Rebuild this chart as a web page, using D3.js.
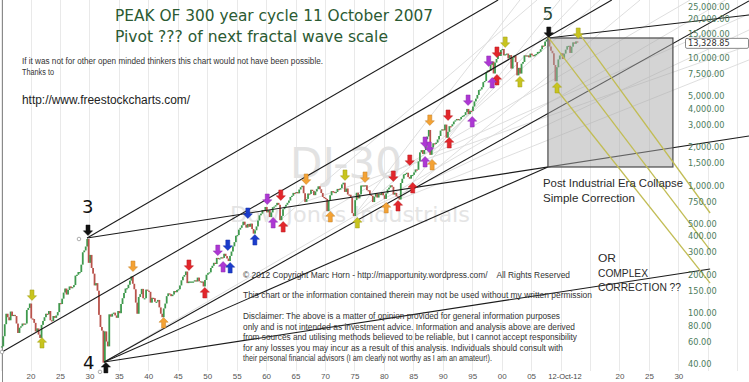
<!DOCTYPE html>
<html><head><meta charset="utf-8">
<script src="https://d3js.org/d3.v7.min.js"></script>
<style>html,body{margin:0;padding:0;background:#fff;overflow:hidden}</style>
</head><body>
<svg id="chart" width="749" height="382"></svg>
<script>
// ---------- DATA ----------
const startYear = 1915;
// DJIA approximate quarterly values (Q1..Q4), 1915 - 2012
const djiaQuarterly = [
  55, 66, 82, 99,        // 1915
  93, 88, 103, 95,       // 1916
  97, 95, 83, 70,        // 1917
  77, 79, 83, 82,        // 1918
  83, 106, 110, 119,     // 1919
  91, 90, 84, 72,        // 1920
  76, 68, 64, 81,        // 1921
  87, 93, 99, 98,        // 1922
  104, 88, 87, 95,       // 1923
  92, 96, 102, 120,      // 1924
  118, 130, 145, 156,    // 1925
  140, 152, 162, 157,    // 1926
  160, 166, 197, 200,    // 1927
  210, 210, 240, 300,    // 1928
  310, 333, 381, 248,    // 1929
  286, 226, 204, 165,    // 1930
  172, 150, 97, 78,      // 1931
  73, 41, 72, 60,        // 1932
  55, 98, 94, 99,        // 1933
  101, 96, 92, 104,      // 1934
  100, 118, 131, 144,    // 1935
  156, 157, 167, 180,    // 1936
  194, 170, 154, 121,    // 1937
  99, 134, 141, 155,     // 1938
  131, 131, 153, 150,    // 1939
  147, 121, 132, 131,    // 1940
  123, 123, 127, 111,    // 1941
  99, 93, 109, 119,      // 1942
  136, 143, 141, 136,    // 1943
  140, 149, 146, 152,    // 1944
  154, 165, 181, 193,    // 1945
  199, 212, 172, 177,    // 1946
  177, 177, 177, 181,    // 1947
  177, 190, 178, 177,    // 1948
  177, 162, 182, 200,    // 1949
  206, 209, 226, 235,    // 1950
  248, 243, 271, 269,    // 1951
  269, 274, 271, 292,    // 1952
  280, 268, 256, 281,    // 1953
  304, 334, 360, 404,    // 1954
  409, 451, 466, 488,    // 1955
  521, 492, 468, 500,    // 1956
  475, 503, 456, 420,    // 1957
  446, 478, 532, 584,    // 1958
  602, 643, 632, 679,    // 1959
  616, 641, 566, 615,    // 1960
  676, 684, 701, 731,    // 1961
  706, 535, 578, 652,    // 1962
  682, 706, 732, 763,    // 1963
  813, 831, 875, 874,    // 1964
  889, 868, 930, 969,    // 1965
  995, 870, 744, 785,    // 1966
  865, 860, 926, 905,    // 1967
  840, 898, 936, 985,    // 1968
  935, 873, 813, 800,    // 1969
  785, 631, 760, 838,    // 1970
  904, 891, 887, 890,    // 1971
  940, 929, 953, 1020,   // 1972
  1051, 891, 947, 850,   // 1973
  846, 802, 607, 577,    // 1974
  768, 878, 793, 852,    // 1975
  999, 1002, 990, 1004,  // 1976
  919, 916, 847, 831,    // 1977
  742, 818, 865, 805,    // 1978
  862, 841, 878, 838,    // 1979
  785, 867, 932, 963,    // 1980
  1003, 976, 849, 875,   // 1981
  822, 811, 777, 1046,   // 1982
  1130, 1221, 1233, 1258,// 1983
  1164, 1132, 1206, 1211,// 1984
  1266, 1335, 1328, 1546,// 1985
  1818, 1892, 1767, 1895,// 1986
  2304, 2418, 2722, 1739,// 1987
  1988, 2141, 2112, 2168,// 1988
  2293, 2440, 2692, 2753,// 1989
  2707, 2999, 2365, 2633,// 1990
  2913, 2906, 3016, 3168,// 1991
  3235, 3318, 3271, 3301,// 1992
  3435, 3516, 3555, 3754,// 1993
  3978, 3624, 3843, 3834,// 1994
  4157, 4556, 4789, 5117,// 1995
  5587, 5654, 5882, 6448,// 1996
  6583, 7673, 7945, 7908,// 1997
  8800, 9338, 7539, 9181,// 1998
  9786, 10971, 10337, 11497, // 1999
  11723, 10448, 10651, 10787,// 2000
  9879, 10502, 8236, 10022,  // 2001
  10404, 9243, 7286, 8342,   // 2002
  7524, 8985, 9275, 10454,   // 2003
  10358, 10435, 10080, 10783,// 2004
  10504, 10275, 10569, 10718,// 2005
  11109, 11150, 11679, 12463,// 2006
  12354, 13409, 13896, 14165,// 2007
  12263, 11350, 10851, 8776, // 2008
  6547, 8447, 9712, 10428,   // 2009
  10857, 9774, 10788, 11578, // 2010
  12320, 12414, 10913, 12218,// 2011
  13212, 12880, 13437, 13329 // 2012
];
const lastValue = 13328.85;
const lastValueLabel = "13,328.85";

const yTickValues = [25000,20000,15000,10000,7500,5000,4000,3000,2000,1500,1000,750,500,400,300,200,150,100,80,60,40];
const gridYears = [1915,1920,1925,1930,1935,1940,1945,1950,1955,1960,1965,1970,1975,1980,1985,1990,1995,2000,2005,2010,2015,2020,2025,2030,2035,2040];
const xLabelYears = [1920,1925,1930,1935,1940,1945,1950,1955,1960,1965,1970,1975,1980,1985,1990,1995,2000,2005,2020,2025,2030];
const dateLabel = {year: 2010.76, text: "12-Oct-12"};

// black trend lines [ [year,value], [year,value] ]
const trendLines = [
  [[1929.6, 388], [1999.4, 28350]],
  [[1915.16, 49.7], [2018.7, 28350]],
  [[1929.6, 388], [2042, 2441]],
  [[1932.5, 41.5], [2035.4, 222]],
  [[1932.5, 41.5], [2042, 27850]],
  [[1932.5, 41.5], [2007.86, 1396]],
  [[2007.9, 14290], [2042, 21640]]
];
// light grey fan lines
const fanLines = [
  [[1974.9, 577], [2003.1, 28350]],
  [[1974.9, 577], [2016.7, 28350]],
  [[1974.9, 577], [2042, 16510]],
  [[1982.6, 777], [2009.9, 28350]],
  [[1982.6, 777], [2023.5, 28350]],
  [[1982.6, 777], [2042, 9620]],
  [[1970.4, 631], [2032.0, 28350]],
  [[1987.8, 1739], [2013.0, 28350]],
  [[1987.8, 1739], [2042, 22000]],
  [[1932.5, 41.5], [2038, 28350]],
  [[1962.4, 535], [2006.0, 28350]],
  [[1966.6, 744], [2042, 12500]]
];
// yellow projection lines
const yellowLines = [
  [[2013.1, 15640], [2035.4, 609]],
  [[2007.86, 14560], [2035.4, 312]],
  [[2009.4, 5597], [2035.4, 172]]
];
const boxCorners = [[2007.86, 14290], [2029.08, 1396]];

// arrows: [year, value, direction, colour]
const arrows = [
  [1920.25, 139, "down", "yellow"], [1921.95, 58.4, "up", "yellow"],
  [1929.76, 448, "down", "black"],  [1932.8, 37.3, "up", "black"],
  [1937.4, 234, "down", "orange"],  [1942.6, 83.8, "up", "orange"],
  [1946.9, 238.6, "down", "red"],   [1949.6, 144, "up", "red"],
  [1951.8, 312, "down", "purple"],  [1952.7, 230, "up", "purple"],
  [1953.5, 342, "down", "blue"],    [1953.9, 226, "up", "blue"],
  [1956.9, 609, "down", "blue"],    [1958.1, 374, "up", "blue"],
  [1960.2, 784, "down", "purple"],  [1961.2, 509, "up", "purple"],
  [1962.5, 843, "down", "red"],     [1962.9, 473, "up", "red"],
  [1966.8, 1125, "down", "orange"], [1970.9, 567, "up", "orange"],
  [1973.4, 1209, "down", "yellow"], [1975.5, 509, "up", "yellow"],
  [1976.8, 1166, "down", "orange"], [1980.4, 667, "up", "orange"],
  [1981.6, 1187, "down", "red"],    [1982.4, 691, "up", "red"],
  [1984.4, 1584, "down", "red"],    [1984.9, 956, "up", "red"],
  [1987.0, 2191, "down", "purple"], [1987.7, 2002, "down", "purple"],
  [1987.0, 1528, "up", "purple"],   [1988.2, 1448, "up", "orange"],
  [1987.8, 3259, "down", "orange"],
  [1990.9, 3566, "down", "red"],    [1991.1, 2153, "up", "red"],
  [1994.3, 4673, "down", "purple"], [1995.0, 3143, "up", "purple"],
  [1999.2, 11106, "down", "red"],   [1999.2, 6704, "up", "red"],
  [1997.8, 9441, "down", "purple"], [1998.4, 6352, "up", "purple"],
  [2000.6, 13298, "down", "yellow"],[2003.1, 6465, "up", "yellow"],
  [2008.0, 15924, "down", "black"],
  [2013.0, 15645, "down", "yellow"],[2009.4, 5802, "up", "yellow"]
];
const markers = [[1915.16, 49.7], [1928.23, 381], [1931.8, 34.7]];

// ---------- DRAW ----------
const W = 749, H = 382;
const svg = d3.select("#chart");
const x = d3.scaleLinear().domain([1914.82, 2042]).range([0, W]);
const y = d3.scaleLog().domain([28.92, 28350]).range([H, 0]);
const arrowColors = {yellow:"#c8c41e", orange:"#f4a234", red:"#e3262b", purple:"#ad37d4", blue:"#1b3ccc", black:"#111"};

svg.append("rect").attr("width", W).attr("height", H).attr("fill", "#fff");

// vertical grid
svg.append("g").selectAll("line").data(gridYears).join("line")
  .attr("x1", d => Math.round(x(d)) + 0.5).attr("x2", d => Math.round(x(d)) + 0.5)
  .attr("y1", 0).attr("y2", 371)
  .attr("stroke", "#e9e9e9").attr("stroke-width", 1);
svg.append("line").attr("x1", 2.5).attr("x2", 2.5).attr("y1", 0).attr("y2", H)
  .attr("stroke", "#8a8a8a");

// watermark
svg.append("text").attr("x", 290).attr("y", 178).text("DJ-30")
  .attr("font-family", "DejaVu Sans, Verdana, sans-serif").attr("font-size", 42)
  .attr("fill", "#e2e2e2").attr("textLength", 112).attr("lengthAdjust", "spacingAndGlyphs");
svg.append("text").attr("x", 230).attr("y", 222).text("Dow Jones Industrials")
  .attr("font-family", "DejaVu Sans, Verdana, sans-serif").attr("font-size", 21)
  .attr("fill", "#e4e4e4").attr("textLength", 240).attr("lengthAdjust", "spacingAndGlyphs");

const lineGen = d3.line().x(d => x(d[0])).y(d => y(d[1]));

// fan lines
svg.append("g").selectAll("path").data(fanLines).join("path")
  .attr("d", lineGen).attr("fill", "none").attr("stroke", "#dadada").attr("stroke-width", 0.9);

// candles
const candles = djiaQuarterly.map((c, i) => ({
  t: startYear + i / 4 + 0.125,
  o: i > 0 ? djiaQuarterly[i - 1] : c,
  c: c
}));
svg.append("g").selectAll("rect").data(candles).join("rect")
  .attr("x", d => x(d.t) - 0.9).attr("width", 1.8)
  .attr("y", d => y(Math.max(d.o, d.c)))
  .attr("height", d => Math.max(1.2, Math.abs(y(d.o) - y(d.c))))
  .attr("fill", d => d.c >= d.o ? "#3f9a4e" : "#b9534c");

// black trend lines
svg.append("g").selectAll("path").data(trendLines).join("path")
  .attr("d", lineGen).attr("fill", "none").attr("stroke", "#1b1b1b").attr("stroke-width", 1.1);

// box
svg.append("rect")
  .attr("x", x(boxCorners[0][0])).attr("y", y(boxCorners[0][1]))
  .attr("width", x(boxCorners[1][0]) - x(boxCorners[0][0]))
  .attr("height", y(boxCorners[1][1]) - y(boxCorners[0][1]))
  .attr("fill", "#a9a9a9").attr("fill-opacity", 0.5)
  .attr("stroke", "#4a4a4a").attr("stroke-width", 1.2);

// yellow lines
svg.append("g").selectAll("path").data(yellowLines).join("path")
  .attr("d", lineGen).attr("fill", "none").attr("stroke", "#c2bd55").attr("stroke-width", 1.3);

// markers
svg.append("g").selectAll("circle").data(markers).join("circle")
  .attr("cx", d => x(d[0])).attr("cy", d => y(d[1])).attr("r", 1.8)
  .attr("fill", "#fff").attr("stroke", "#999").attr("stroke-width", 0.8);

// arrows
const arrowPath = "M0,-5.5 L4.6,-0.8 L2,-0.8 L2,5 L-2,5 L-2,-0.8 L-4.6,-0.8 Z";
svg.append("g").selectAll("path").data(arrows).join("path")
  .attr("d", arrowPath)
  .attr("transform", d => `translate(${x(d[0])},${y(d[1])}) scale(1,${d[2] === "up" ? 1 : -1})`)
  .attr("fill", d => arrowColors[d[3]])
  .attr("stroke", d => d3.color(arrowColors[d[3]]).darker(0.6)).attr("stroke-width", 0.5);

// texts
function addText(tx, ty, str, size, family, fill, len) {
  const t = svg.append("text").attr("x", tx).attr("y", ty).text(str)
    .attr("font-size", size).attr("font-family", family).attr("fill", fill);
  if (len) t.attr("textLength", len).attr("lengthAdjust", "spacingAndGlyphs");
  return t;
}
const verd = "DejaVu Sans, Verdana, sans-serif";
const arial = "Liberation Sans, Arial, sans-serif";
addText(115, 20.5, "PEAK OF 300 year cycle 11 October 2007", 16.5, verd, "#2b5a32", 318);
addText(115, 42, "Pivot ??? of next fractal wave scale", 16.5, verd, "#2b5a32", 273);
addText(22, 64, "If it was not for other open minded thinkers this chart would not have been possible.", 8.3, arial, "#333", 301);
addText(22, 75, "Thanks to", 8.3, arial, "#333", 32);
addText(22, 104, "http://www.freestockcharts.com/", 12, arial, "#222", 168);

addText(x(2007.8) - 5, 20, "5", 17, verd, "#2b4a38");
addText(82, 213, "3", 18, verd, "#111");
addText(83, 369, "4", 18, verd, "#111");

addText(543, 187, "Post Industrial Era Collapse", 11.8, arial, "#2a2a2a", 140);
addText(543, 202, "Simple Correction", 11.8, arial, "#2a2a2a", 92);
addText(598, 262, "OR", 11.2, arial, "#2a2a2a", 18);
addText(598, 277, "COMPLEX", 11.2, arial, "#2a2a2a", 50);
addText(598, 291, "CORRECTION ??", 11.2, arial, "#2a2a2a", 83);

addText(243, 278, "\u00A9 2012 Copyright Marc Horn - http://mapportunity.wordpress.com/    All Rights Reserved", 9.2, arial, "#333", 327).style("white-space", "pre");
addText(243, 298, "This chart or the information contained therein may not be used without my written permission", 9.2, arial, "#333", 349);
addText(243, 319, "Disclaimer: The above is a matter of opinion provided for general information purposes", 9.2, arial, "#333", 317);
addText(243, 329.5, "only and is not intended as investment advice. Information and analysis above are derived", 9.2, arial, "#333", 332);
addText(243, 340, "from sources and utilising methods believed to be reliable, but I cannot accept responsibility", 9.2, arial, "#333", 334);
addText(243, 350.5, "for any losses you may incur as a result of this analysis. Individuals should consult with", 9.2, arial, "#333", 320);
addText(243, 361, "their personal financial advisors (I am clearly not worthy as I am an amateur!).", 9.2, arial, "#333", 249);

// right axis
const yAxis = d3.axisRight(y).tickValues(yTickValues).tickFormat(d3.format(",.2f")).tickSize(0).tickPadding(0);
const ya = svg.append("g").attr("transform", "translate(688,0)").call(yAxis);
ya.select(".domain").remove();
ya.selectAll("text").attr("font-family", verd).attr("font-size", 8.2).attr("fill", "#4d7c5c")
  .attr("dy", d => d === 15000 ? "0.12em" : "0.32em");

// last value box
const ly = y(lastValue);
svg.append("rect").attr("x", 685.5).attr("y", ly - 3.5).attr("width", 63).attr("height", 10)
  .attr("fill", "#fff").attr("stroke", "#888").attr("rx", 1.5);
addText(688, ly + 4.6, lastValueLabel, 8.2, verd, "#333");

// bottom axis
const xAxis = d3.axisBottom(x).tickValues(xLabelYears)
  .tickFormat(d => String(d % 100).padStart(2, "0")).tickSize(0).tickPadding(3);
const xa = svg.append("g").attr("transform", "translate(0,370)").call(xAxis);
xa.select(".domain").remove();
xa.selectAll("text").attr("font-family", arial).attr("font-size", 8).attr("fill", "#555");
addText(x(dateLabel.year), 379, dateLabel.text, 7.5, arial, "#444").attr("text-anchor", "middle");
</script>
</body></html>
